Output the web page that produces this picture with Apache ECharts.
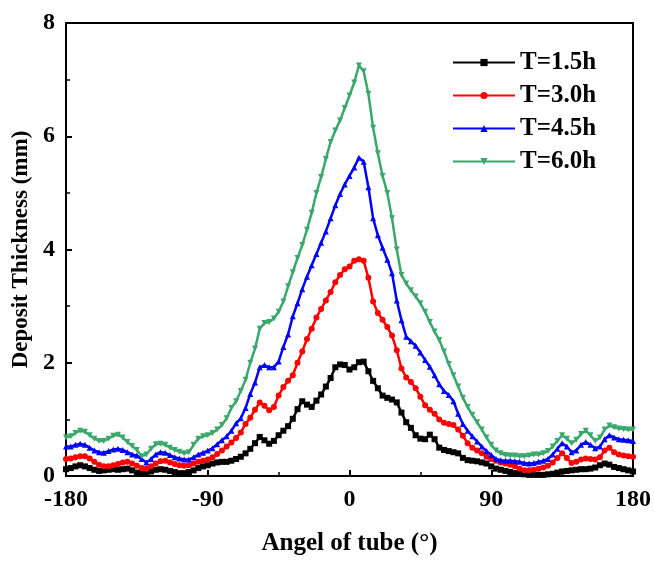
<!DOCTYPE html>
<html><head><meta charset="utf-8">
<script src="https://cdn.jsdelivr.net/npm/echarts@6/dist/echarts.min.js"></script>
<style>html,body{margin:0;padding:0;background:#fff;overflow:hidden}#c{width:654px;height:561px}</style>
</head><body><div id="c"></div>
<script>
const angles = [-180,-177,-174,-171,-168,-165,-162,-159,-156,-153,-150,-147,-144,-141,-138,-135,-132,-129,-126,-123,-120,-117,-114,-111,-108,-105,-102,-99,-96,-93,-90,-87,-84,-81,-78,-75,-72,-69,-66,-63,-60,-57,-54,-51,-48,-45,-42,-39,-36,-33,-30,-27,-24,-21,-18,-15,-12,-9,-6,-3,0,3,6,9,12,15,18,21,24,27,30,33,36,39,42,45,48,51,54,57,60,63,66,69,72,75,78,81,84,87,90,93,96,99,102,105,108,111,114,117,120,123,126,129,132,135,138,141,144,147,150,153,156,159,162,165,168,171,174,177,180];

const t15 = [0.12,0.14,0.17,0.19,0.17,0.14,0.11,0.09,0.10,0.11,0.12,0.11,0.12,0.13,0.10,0.06,0.04,0.05,0.08,0.11,0.12,0.11,0.09,0.07,0.05,0.05,0.07,0.10,0.14,0.17,0.19,0.22,0.24,0.25,0.25,0.27,0.30,0.34,0.40,0.48,0.58,0.69,0.63,0.57,0.62,0.72,0.80,0.88,1.01,1.18,1.32,1.26,1.22,1.33,1.44,1.58,1.73,1.92,1.97,1.96,1.88,1.92,2.01,2.02,1.85,1.68,1.55,1.42,1.38,1.35,1.30,1.12,0.95,0.85,0.72,0.66,0.65,0.73,0.65,0.50,0.46,0.44,0.42,0.40,0.32,0.28,0.27,0.26,0.24,0.22,0.17,0.13,0.11,0.09,0.07,0.05,0.04,0.03,0.02,0.02,0.02,0.02,0.03,0.04,0.06,0.08,0.09,0.10,0.11,0.12,0.12,0.13,0.15,0.19,0.22,0.20,0.16,0.14,0.12,0.10,0.08];

const t30 = [0.30,0.31,0.33,0.35,0.35,0.31,0.25,0.20,0.17,0.17,0.19,0.21,0.24,0.25,0.22,0.18,0.14,0.13,0.17,0.22,0.26,0.27,0.24,0.21,0.19,0.18,0.19,0.22,0.25,0.27,0.29,0.33,0.39,0.45,0.52,0.59,0.67,0.77,0.92,1.03,1.17,1.30,1.24,1.16,1.22,1.42,1.57,1.68,1.78,2.00,2.20,2.42,2.60,2.80,2.95,3.10,3.25,3.42,3.55,3.65,3.70,3.80,3.83,3.80,3.50,3.08,2.88,2.76,2.63,2.48,2.22,1.90,1.74,1.66,1.55,1.40,1.25,1.17,1.10,1.00,0.94,0.92,0.90,0.82,0.71,0.58,0.50,0.45,0.40,0.34,0.30,0.27,0.24,0.22,0.20,0.17,0.13,0.10,0.10,0.11,0.13,0.15,0.18,0.24,0.32,0.40,0.32,0.23,0.25,0.29,0.31,0.30,0.29,0.33,0.45,0.50,0.42,0.38,0.36,0.35,0.34];

const t45 = [0.52,0.52,0.55,0.57,0.55,0.50,0.45,0.42,0.41,0.44,0.47,0.48,0.46,0.42,0.38,0.36,0.30,0.24,0.30,0.38,0.42,0.41,0.37,0.33,0.31,0.29,0.29,0.33,0.38,0.41,0.45,0.49,0.56,0.63,0.70,0.80,0.93,1.02,1.20,1.45,1.65,1.92,1.96,1.92,1.92,2.02,2.28,2.50,2.82,3.05,3.30,3.52,3.72,3.92,4.12,4.32,4.55,4.78,4.98,5.15,5.30,5.45,5.62,5.55,5.10,4.55,4.25,4.03,3.82,3.58,3.10,2.75,2.46,2.38,2.30,2.18,2.05,1.93,1.78,1.62,1.50,1.43,1.32,1.10,0.92,0.80,0.70,0.61,0.52,0.44,0.37,0.30,0.28,0.27,0.27,0.26,0.25,0.23,0.22,0.23,0.25,0.27,0.30,0.38,0.48,0.58,0.52,0.42,0.45,0.55,0.60,0.55,0.49,0.52,0.65,0.72,0.68,0.65,0.64,0.63,0.62];

const t60 = [0.68,0.70,0.76,0.80,0.78,0.72,0.66,0.62,0.62,0.66,0.71,0.73,0.68,0.60,0.53,0.46,0.35,0.38,0.48,0.56,0.57,0.55,0.50,0.46,0.43,0.40,0.42,0.55,0.66,0.70,0.72,0.76,0.82,0.90,1.02,1.20,1.32,1.50,1.70,2.00,2.25,2.60,2.70,2.72,2.78,2.90,3.08,3.35,3.60,3.85,4.08,4.35,4.65,5.00,5.28,5.60,5.90,6.10,6.28,6.50,6.72,6.95,7.25,7.15,6.75,6.15,5.70,5.30,5.00,4.55,4.00,3.55,3.40,3.28,3.17,3.05,2.90,2.72,2.55,2.40,2.20,1.98,1.78,1.58,1.38,1.22,1.08,0.95,0.82,0.68,0.55,0.45,0.40,0.37,0.36,0.36,0.35,0.35,0.36,0.38,0.38,0.40,0.44,0.52,0.62,0.72,0.66,0.58,0.64,0.74,0.80,0.72,0.62,0.68,0.82,0.89,0.86,0.84,0.83,0.82,0.82];

const seriesNames = ['T=1.5h','T=3.0h','T=4.5h','T=6.0h'];
const seriesData = [t15, t30, t45, t60];
const colors = ['#000000','#ff0000','#0000ff','#3aa86b'];
const symbols = ['rect','circle','triangle','triangle'];
const rotates = [0,0,0,180];
const xTicks = [-180,-90,0,90,180];
const yTicks = [0,2,4,6,8];

const FONT = '"Liberation Serif","Times New Roman",serif';
const chart = echarts.init(document.getElementById('c'), null, {renderer:'canvas'});
chart.setOption({
  animation:false,
  backgroundColor:'#fff',
  grid:{left:66,right:20,top:23,bottom:80,show:true,borderColor:'#000',borderWidth:2},
  legend:{
    orient:'vertical', left:447, top:45, itemWidth:62, itemHeight:9, itemGap:8,
    data:seriesNames,
    textStyle:{fontFamily:FONT,fontWeight:'bold',fontSize:25,color:'#000'}
  },
  xAxis:{
    type:'value', min:xTicks[0], max:xTicks[xTicks.length-1], interval:90,
    name:'Angel of tube (°)', nameLocation:'middle', nameGap:55,
    nameTextStyle:{fontFamily:FONT,fontWeight:'bold',fontSize:25,color:'#000'},
    axisLine:{show:true,onZero:false,lineStyle:{color:'#000',width:2}},
    axisTick:{show:true,inside:true,length:6,lineStyle:{color:'#000',width:2}},
    minorTick:{show:true,splitNumber:2,length:4,lineStyle:{color:'#000',width:1.5}},
    splitLine:{show:false},
    axisLabel:{fontFamily:FONT,fontWeight:'bold',fontSize:24,color:'#000',margin:12}
  },
  yAxis:{
    type:'value', min:yTicks[0], max:yTicks[yTicks.length-1], interval:2,
    name:'Deposit Thickness (mm)', nameLocation:'middle', nameGap:21,
    nameTextStyle:{fontFamily:FONT,fontWeight:'bold',fontSize:23,color:'#000'},
    axisLine:{show:true,onZero:false,lineStyle:{color:'#000',width:2}},
    axisTick:{show:true,inside:true,length:6,lineStyle:{color:'#000',width:2}},
    minorTick:{show:true,splitNumber:2,length:4,lineStyle:{color:'#000',width:1.5}},
    splitLine:{show:false},
    axisLabel:{fontFamily:FONT,fontWeight:'bold',fontSize:24,color:'#000',margin:11}
  },
  series: seriesNames.map((n,i)=>({
    name:n, type:'line',
    data: angles.map((a,j)=>[a, seriesData[i][j]]),
    symbol:symbols[i], symbolSize:6, symbolRotate:rotates[i], showSymbol:true,
    itemStyle:{color:colors[i]},
    lineStyle:{color:colors[i],width:2.5},
    z: 2+i
  }))
});
</script></body></html>
